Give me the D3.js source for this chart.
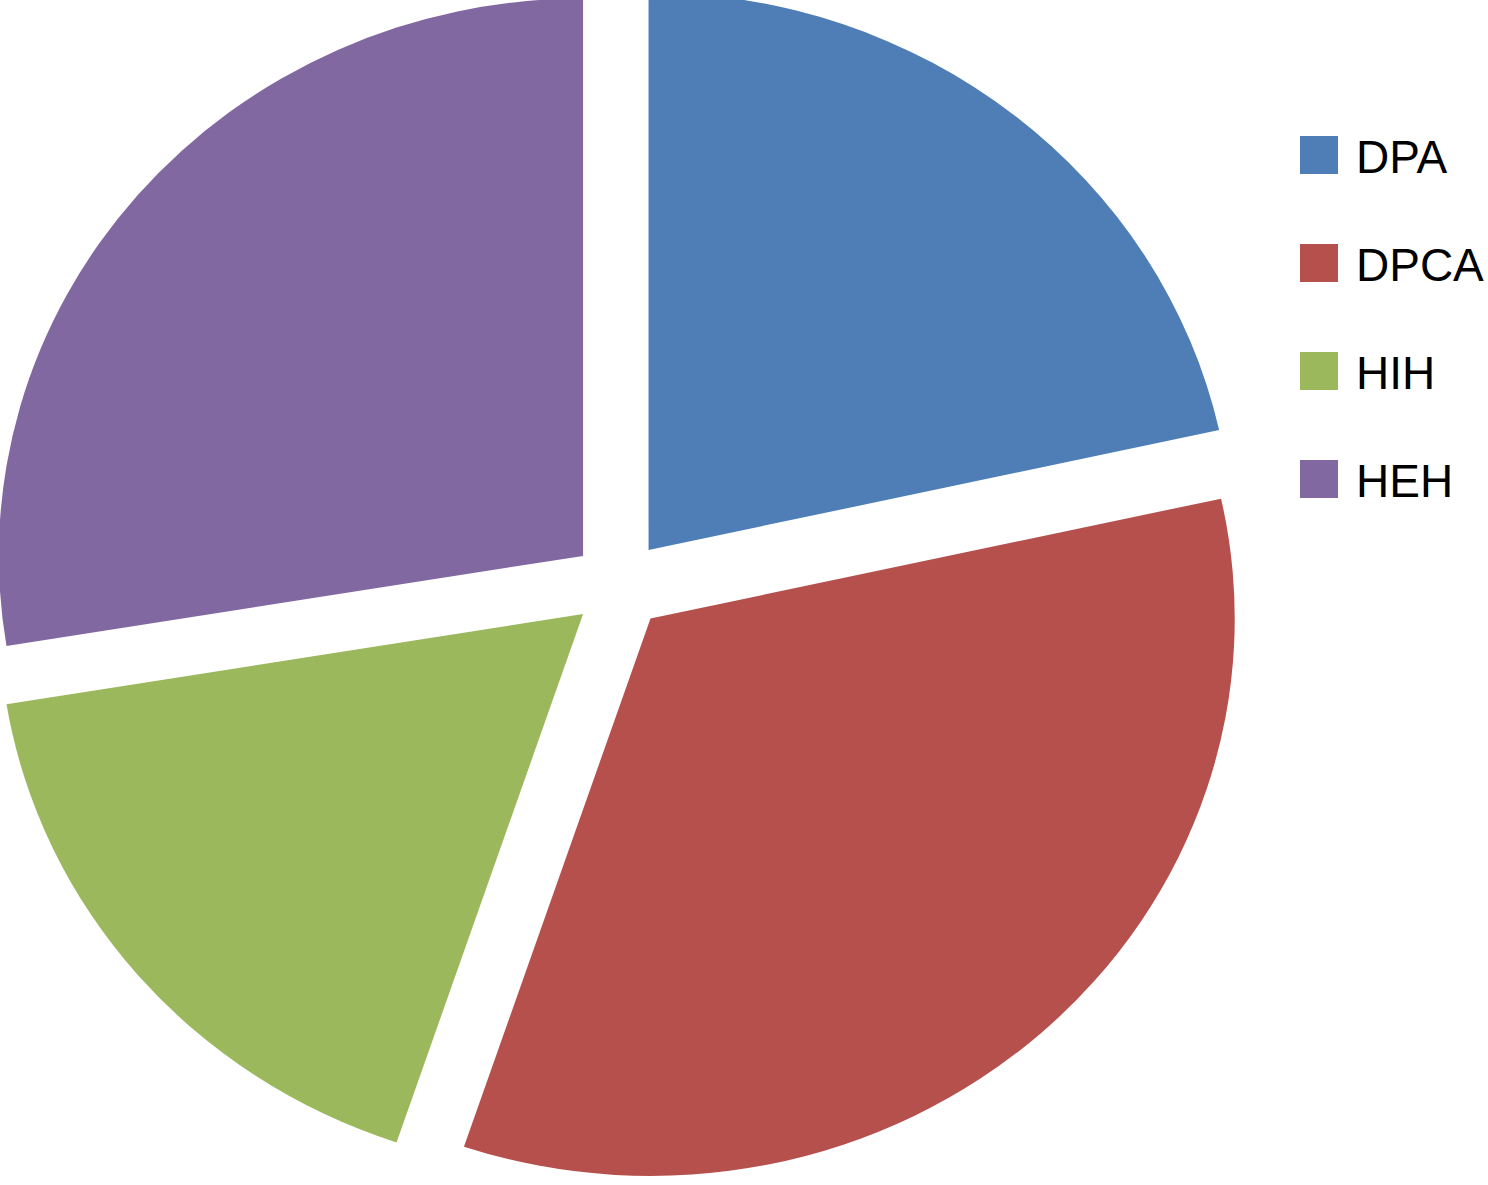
<!DOCTYPE html>
<html>
<head>
<meta charset="utf-8">
<script src="https://cdn.jsdelivr.net/npm/d3@7"></script>
<style>
  html, body { margin: 0; padding: 0; background: #fff; }
  svg { display: block; }
</style>
</head>
<body>
<section></section>
<script>
var categories = ['DPA', 'DPCA', 'HIH', 'HEH'];
var counts = [25, 39, 20, 32];
var colors = ['#4F7EB6', '#B6504D', '#9BB85C', '#8268A1'];

(function() {
  var W = 1488, H = 1185;
  var R = 570, EXPLODE = 46;
  var svg, g, pie, arc, slices, legend, rows;

  svg = d3.select('section').append('svg').attr('width', W).attr('height', H);

  // pie is a little wider than tall in the original
  g = svg.append('g').attr('transform', 'translate(619 585) scale(1.025 0.978)');

  pie = d3.pie().sort(null).value(function(d) { return d.value; });
  arc = d3.arc().innerRadius(0).outerRadius(R);

  slices = pie(categories.map(function(c, i) {
    return { name: c, value: counts[i], color: colors[i] };
  }));

  g.selectAll('path').data(slices).enter().append('path')
    .attr('d', arc)
    .attr('fill', function(d) { return d.data.color; })
    .attr('transform', function(d) {
      var a = (d.startAngle + d.endAngle) / 2;
      return 'translate(' + (EXPLODE * Math.sin(a)) + ' ' + (-EXPLODE * Math.cos(a)) + ')';
    });

  // legend
  legend = svg.append('g').attr('transform', 'translate(1300 136)');
  rows = legend.selectAll('g').data(categories).enter().append('g')
    .attr('transform', function(d, i) { return 'translate(0 ' + (i * 108) + ')'; });
  rows.append('rect').attr('width', 38).attr('height', 38)
    .attr('fill', function(d, i) { return colors[i]; });
  rows.append('text').attr('x', 56).attr('y', 37)
    .attr('font-family', 'Liberation Sans, Arial, sans-serif')
    .attr('font-size', 46).attr('fill', '#000')
    .text(function(d) { return d; });
}).call(this);
</script>
</body>
</html>
